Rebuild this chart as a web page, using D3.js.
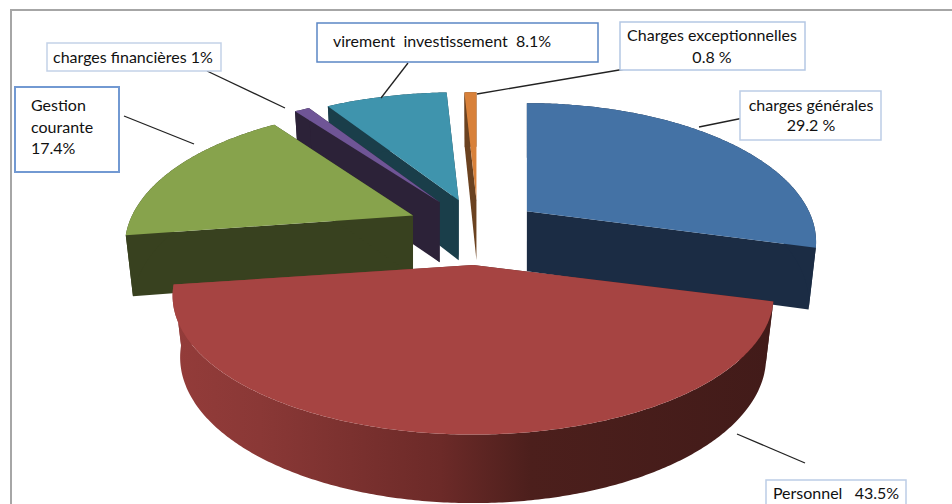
<!DOCTYPE html>
<html>

<head>
    <meta charset="utf-8">
    <script src="https://d3js.org/d3.v7.min.js"></script>
    <style>
        html, body { margin: 0; padding: 0; background: #fff; overflow: hidden; }
        text { font-family: Lato, "Open Sans", sans-serif; font-size: 16px; fill: #111; white-space: pre; }
    </style>
</head>

<body>
    <svg id="chart" width="952" height="504"></svg>
    <script>
        const categories = ["charges générales", "Personnel", "Gestion courante", "charges financières", "virement investissement", "Charges exceptionnelles"];
        const shares = [29.2, 43.5, 17.4, 1, 8.1, 0.8];
        const labelLines = [
            ["charges générales", "29.2 %"],
            ["Personnel   43.5%"],
            ["Gestion", "courante", "17.4%"],
            ["charges financières 1%"],
            ["virement  investissement  8.1%"],
            ["Charges exceptionnelles", "0.8 %"]
        ];

        // colours, same order as categories
        const topColors = ["#4472a5", "#a64442", "#87a34c", "#6f5596", "#3f94ad", "#d8813a"];
        const sideColors = ["#1b2c44", "url(#redRim)", "#38411f", "#2c2238", "#1a3e4a", "#6b4220"];

        // layout of the 3d pie
        const centre = { x: 478, y: 228 };
        const radiusX = [282, 293, 281, 293, 293, 293];
        const radiusY = 132;
        const perspective = 0.222;
        const depth = 60;
        const bottomShrink = 0.975;
        const explode = [0.21, 0.28, 0.241, 0.235, 0.22, 0.21];
        const drawOrder = [5, 4, 3, 0, 2, 1]; // back to front

        // label boxes and leader lines
        const boxes = [
            { x: 740, y: 91, w: 141, h: 49, stroke: "#bccde6", sw: 1.5, anchor: "middle", tx: 811, ty: [111, 131] },
            { x: 766, y: 480, w: 140, h: 40, stroke: "#bccde6", sw: 1.5, anchor: "middle", tx: 836, ty: [499] },
            { x: 15, y: 87, w: 104, h: 85, stroke: "#7299d2", sw: 2, anchor: "start", tx: 31, ty: [111, 133, 154] },
            { x: 47, y: 43, w: 174, h: 28, stroke: "#c3d2e8", sw: 1.5, anchor: "start", tx: 53, ty: [63] },
            { x: 317, y: 23, w: 281, h: 39, stroke: "#5b87c5", sw: 1.5, anchor: "start", tx: 333, ty: [47] },
            { x: 620, y: 22, w: 185, h: 48, stroke: "#b4c7e4", sw: 1.5, anchor: "middle", tx: 712, ty: [41, 63] }
        ];
        const leaders = [
            [[699, 127], [763, 114]],
            [[737, 434], [805, 463]],
            [[124, 116], [194, 144]],
            [[207, 71], [285, 108]],
            [[408, 63], [381, 98]],
            [[477, 94], [631, 68]]
        ];

        const svg = d3.select("#chart");

        let grad = svg.append("defs").append("linearGradient")
            .attr("id", "redRim")
            .attr("gradientUnits", "userSpaceOnUse")
            .attr("x1", 170).attr("x2", 772).attr("y1", 0).attr("y2", 0);
        grad.selectAll("stop")
            .data([[0, "#943c3a"], [0.15, "#8a3836"], [0.45, "#6c2a28"], [0.6, "#4c1f1c"], [1, "#421b19"]])
            .enter().append("stop")
            .attr("offset", d => d[0])
            .attr("stop-color", d => d[1]);

        // chart frame: top and left edges only show in the picture
        svg.append("path")
            .attr("d", "M11,504V10H952")
            .attr("fill", "none")
            .attr("stroke", "#a6a6a6")
            .attr("stroke-width", 2);

        const slices = d3.pie().sort(null).value(d => d)(shares);
        const line = d3.line();

        // point on the slice's disc, seen in perspective from its own apex
        function project(slice, i, angle, r, lower) {
            let mid = (slice.startAngle + slice.endAngle) / 2;
            let ax = centre.x + explode[i] * Math.sin(mid) * 293;
            let ay = centre.y - explode[i] * Math.cos(mid) * radiusY;
            let X = Math.sin(angle) * r;
            let Y = -Math.cos(angle) * r;
            let s = 1 / (1 - perspective * Y);
            let px = X * radiusX[i] * s;
            let py = Y * radiusY * s;
            if (lower) {
                px *= bottomShrink;
                py += depth * (1 + (s - 1) * 0.5);
            }
            return [ax + px, ay + py];
        }

        function arcAngles(slice) {
            let n = Math.max(2, Math.ceil((slice.endAngle - slice.startAngle) / 0.01));
            return d3.range(n + 1).map(k => slice.startAngle + (slice.endAngle - slice.startAngle) * k / n);
        }

        drawOrder.forEach(i => {
            let slice = slices[i];
            let g = svg.append("g").attr("class", "slice").attr("data-name", categories[i]);
            let angles = arcAngles(slice);

            // cut faces
            [slice.startAngle, slice.endAngle].forEach(a => {
                g.append("path")
                    .attr("fill", sideColors[i])
                    .attr("d", line([
                        project(slice, i, a, 0, false),
                        project(slice, i, a, 1, false),
                        project(slice, i, a, 1, true),
                        project(slice, i, a, 0, true)
                    ]) + "Z");
            });

            // outer rim
            let rim = angles.map(a => project(slice, i, a, 1, false))
                .concat(angles.slice().reverse().map(a => project(slice, i, a, 1, true)));
            g.append("path")
                .attr("fill", sideColors[i])
                .attr("d", line(rim) + "Z");

            // top face
            let top = [project(slice, i, 0, 0, false)].concat(angles.map(a => project(slice, i, a, 1, false)));
            g.append("path")
                .attr("fill", topColors[i])
                .attr("d", line(top) + "Z");
        });

        // leader lines
        svg.selectAll(".leader")
            .data(leaders)
            .enter().append("path")
            .attr("class", "leader")
            .attr("fill", "none")
            .attr("stroke", "#222")
            .attr("stroke-width", 1.3)
            .attr("d", d => line(d));

        // label boxes
        boxes.forEach((b, i) => {
            let g = svg.append("g");
            g.append("rect")
                .attr("x", b.x).attr("y", b.y)
                .attr("width", b.w).attr("height", b.h)
                .attr("fill", "#fff")
                .attr("stroke", b.stroke)
                .attr("stroke-width", b.sw);
            g.selectAll("text")
                .data(labelLines[i])
                .enter().append("text")
                .attr("x", b.tx)
                .attr("y", (d, k) => b.ty[k])
                .attr("text-anchor", b.anchor)
                .text(d => d);
        });
    </script>
</body>

</html>
